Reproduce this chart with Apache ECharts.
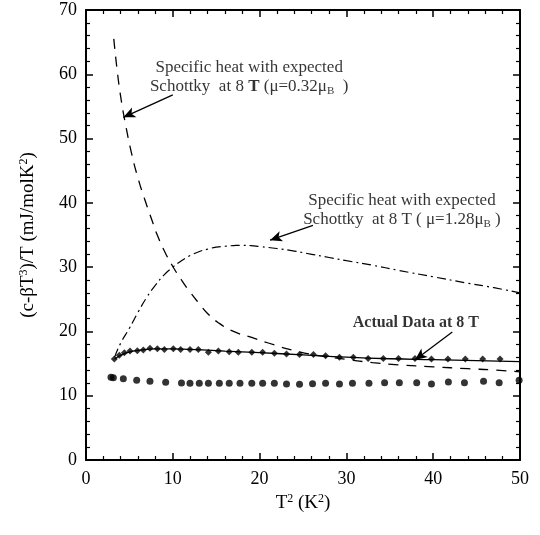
<!DOCTYPE html>
<html>
<head>
<meta charset="utf-8">
<script src="https://cdn.jsdelivr.net/npm/echarts@6/dist/echarts.min.js"></script>
<style>html,body{margin:0;padding:0;background:#fff}#c{width:540px;height:535px}</style>
</head>
<body>
<div id="c"></div>
<script>
// ---- data ----
const actualData8T = [
  [3.26,15.7],[3.84,16.3],[4.42,16.7],[5.07,16.95],[5.91,17.0],[6.6,17.1],[7.37,17.4],[8.22,17.3],
  [9.03,17.2],[10.06,17.3],[10.9,17.2],[11.98,17.2],[12.94,17.2],[14.1,16.75],[15.25,16.95],[16.5,16.85],
  [17.55,16.75],[19.1,16.75],[20.35,16.75],[21.7,16.6],[23.1,16.5],[24.6,16.4],[26.2,16.4],[27.6,16.2],
  [29.2,16.0],[30.8,16.0],[32.5,15.8],[34.25,15.8],[36.0,15.8],[37.9,15.8],[39.8,15.7],[41.7,15.7],
  [43.7,15.7],[45.7,15.7],[47.7,15.7]
];
const fitLine8T = [
  [3.3,15.7],[4,16.3],[5,16.8],[6,17.05],[8,17.3],[10,17.3],[12,17.2],[16,16.95],[20,16.7],
  [25,16.35],[30,16.0],[35,15.75],[40,15.6],[45,15.45],[50,15.3]
];
const zeroFieldData = [
  [2.88,12.86],[3.15,12.8],[4.3,12.65],[5.84,12.4],[7.37,12.24],[9.18,12.08],[11.0,11.97],[11.98,11.92],
  [13.05,11.92],[14.1,11.92],[15.36,11.92],[16.5,11.92],[17.74,11.92],[19.1,11.92],[20.35,11.92],[21.7,11.92],
  [23.1,11.82],[24.6,11.77],[26.1,11.87],[27.6,11.92],[29.2,11.82],[30.7,11.92],[32.6,11.92],[34.4,12.03],
  [36.1,12.03],[38.1,12.03],[39.8,11.82],[41.75,12.13],[43.6,12.03],[45.8,12.24],[47.6,12.03],[49.9,12.4]
];
const schottkyLowMu = [
  [3.2,65.5],[3.6,60.5],[4.0,56.5],[4.5,52.6],[5.25,47.7],[6.0,43.8],[6.8,40.4],[7.6,37.3],[8.15,35.2],
  [9,32.6],[10,30.1],[11,28.0],[12,26.1],[13,24.4],[14,22.8],[15.2,21.4],[17,20.0],[19,19.1],[21,18.2],
  [24,17.0],[27,16.2],[30,15.65],[33,15.15],[36,14.8],[40,14.5],[44,14.2],[47,14.0],[50,13.7]
];
const schottkyHighMu = [
  [3.3,16.0],[4,18.2],[5,20.5],[6,23.0],[7,25.3],[8,27.2],[9,28.8],[10,30.0],[11,31.0],[12,31.8],
  [13,32.4],[14,32.8],[15,33.1],[16,33.25],[17,33.35],[18,33.4],[19,33.35],[20,33.2],[22,32.9],
  [24,32.5],[26,32.0],[28,31.5],[30,31.0],[33,30.3],[36,29.5],[40,28.5],[44,27.5],[47,26.8],[50,26.0]
];
const xTicks = [0,10,20,30,40,50];
const yTicks = [0,10,20,30,40,50,60,70];
const xAxisTitle = '{n|T}{sup|2}{n| (K}{sup|2}{n|)}';
const yAxisTitle = '{n|(c-βT}{sup|3}{n|)/T (mJ/molK}{sup|2}{n|)}';
const labelTexts = [
  {pos:[18.8,59.6], text:'{n|Specific heat with expected}\n{n|Schottky  at 8 }{b|T}{n| (μ=0.32μ}{s|B}{n|  )}'},
  {pos:[36.4,38.9], text:'{n|Specific heat with expected}\n{n|Schottky  at 8 T ( μ=1.28μ}{s|B}{n| )}'},
  {pos:[38.0,21.3], text:'{bb|Actual Data at 8 T}'}
];
const arrows = [
  [[10.0,56.8],[4.3,53.3]],
  [[26.15,36.5],[21.2,34.2]],
  [[42.2,19.9],[37.9,15.55]]
];

// ---- chart ----
const FONT = 'Liberation Serif';
const chart = echarts.init(document.getElementById('c'), null, {renderer:'canvas'});
const titleRich = {
  n:{fontFamily:FONT, fontSize:19, color:'#000', lineHeight:22},
  sup:{fontFamily:FONT, fontSize:12, color:'#000', padding:[0,0,9,0], lineHeight:22}
};
const axisCommon = {
  type:'value',
  axisLine:{show:true, onZero:false, lineStyle:{color:'#000', width:2}},
  axisTick:{show:true, inside:true, length:7, lineStyle:{color:'#000', width:1.5}},
  minorTick:{show:true, splitNumber:5, length:4, lineStyle:{color:'#000', width:1.2}},
  splitLine:{show:false},
  minorSplitLine:{show:false}
};
const option = {
  animation:false,
  backgroundColor:'#fff',
  grid:{left:86, right:20, top:10, bottom:75, containLabel:false},
  xAxis:[
    Object.assign({}, axisCommon, {
      min:0, max:50, interval:10, position:'bottom',
      name:xAxisTitle, nameLocation:'middle', nameGap:30,
      nameTextStyle:{fontFamily:FONT, fontSize:19, color:'#000', rich:titleRich},
      axisLabel:{margin:10, fontFamily:FONT, fontSize:18, color:'#000',
        formatter:v => xTicks.includes(v) ? String(v) : ''}
    }),
    Object.assign({}, axisCommon, {
      min:0, max:50, interval:10, position:'top', axisLabel:{show:false}
    })
  ],
  yAxis:[
    Object.assign({}, axisCommon, {
      min:0, max:70, interval:10, position:'left',
      name:yAxisTitle, nameLocation:'middle', nameGap:47, nameRotate:90,
      nameTextStyle:{fontFamily:FONT, fontSize:19, color:'#000', rich:titleRich},
      axisLabel:{margin:9, fontFamily:FONT, fontSize:18, color:'#000',
        formatter:v => yTicks.includes(v) ? String(v) : ''}
    }),
    Object.assign({}, axisCommon, {
      min:0, max:70, interval:10, position:'right', axisLabel:{show:false}
    })
  ],
  series:[
    {type:'line', data:schottkyLowMu, smooth:true, showSymbol:false, silent:true,
      lineStyle:{color:'#000', width:1.3, type:[10,8]}},
    {type:'line', data:schottkyHighMu, smooth:true, showSymbol:false, silent:true,
      lineStyle:{color:'#000', width:1.2, type:[9,4,2,4]}},
    {type:'line', data:fitLine8T, smooth:true, showSymbol:false, silent:true,
      lineStyle:{color:'#000', width:1.3}},
    {type:'scatter', data:actualData8T, symbol:'diamond', symbolSize:7, silent:true,
      itemStyle:{color:'#000'}},
    {type:'scatter', data:zeroFieldData, symbol:'circle', symbolSize:7, silent:true,
      itemStyle:{color:'#000'}},
    {type:'scatter', silent:true, symbolSize:0,
      data:labelTexts.map(l => ({value:l.pos, label:{formatter:l.text}})),
      label:{show:true, position:'inside', align:'center', verticalAlign:'middle', color:'#000',
        fontFamily:FONT, fontSize:17, lineHeight:19,
        rich:{
          n:{fontFamily:FONT, fontSize:17, color:'#000', lineHeight:19},
          b:{fontFamily:FONT, fontSize:17, fontWeight:'bold', color:'#000', lineHeight:19},
          bb:{fontFamily:FONT, fontSize:16, fontWeight:'bold', color:'#000', lineHeight:19},
          s:{fontFamily:FONT, fontSize:11, color:'#000', padding:[9,0,0,0], lineHeight:19}
        }},
      markLine:{silent:true, symbol:['none','arrow'], symbolSize:[8,12], animation:false,
        label:{show:false},
        lineStyle:{color:'#000', width:1.3, type:'solid'},
        data:arrows.map(a => [{coord:a[0]},{coord:a[1]}])}
    }
  ]
};
chart.setOption(option);
</script>
</body>
</html>
